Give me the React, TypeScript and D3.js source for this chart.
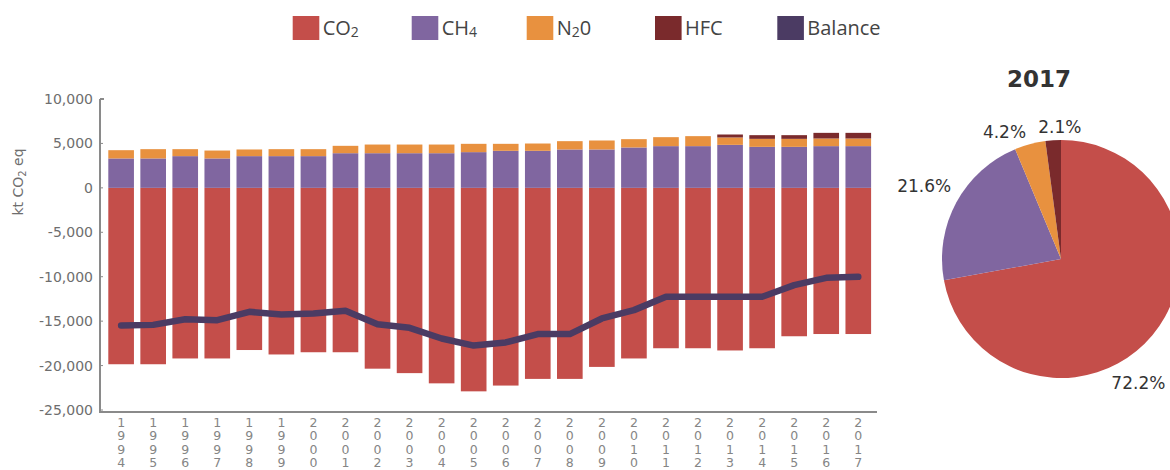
import React from 'react';
import * as d3 from 'd3';

// ---------- data ----------
const years = [1994, 1995, 1996, 1997, 1998, 1999, 2000, 2001, 2002, 2003, 2004, 2005, 2006, 2007, 2008, 2009, 2010, 2011, 2012, 2013, 2014, 2015, 2016, 2017];
const co2 = [-19850, -19850, -19200, -19200, -18250, -18750, -18500, -18500, -20350, -20850, -22000, -22900, -22250, -21500, -21500, -20150, -19200, -18050, -18050, -18300, -18050, -16700, -16450, -16450];
const ch4 = [3310, 3310, 3570, 3310, 3570, 3570, 3570, 3900, 3900, 3900, 3900, 4020, 4170, 4170, 4320, 4320, 4545, 4695, 4695, 4840, 4615, 4615, 4695, 4695];
const n2o = [930, 1045, 785, 890, 750, 785, 785, 830, 975, 975, 975, 935, 785, 820, 935, 1010, 935, 1010, 1125, 830, 900, 900, 860, 860];
const hfc = [0, 0, 0, 0, 0, 0, 0, 0, 0, 0, 0, 0, 0, 0, 0, 0, 0, 0, 0, 335, 415, 415, 635, 635];
const balance = [-15490, -15420, -14780, -14890, -13950, -14250, -14140, -13840, -15340, -15750, -16950, -17750, -17400, -16460, -16460, -14700, -13760, -12260, -12260, -12260, -12260, -10950, -10130, -10010];

const seriesKeys = ['CO2', 'CH4', 'N2O', 'HFC'];
const seriesColors = ['#c44e4a', '#8066a0', '#e8913f', '#7a2a2c'];
const balanceColor = '#4b3b63';

const yTicks = [10000, 5000, 0, -5000, -10000, -15000, -20000, -25000];

const legendMain = ['CO', 'CH', 'N', 'HFC', 'Balance'];
const legendSub = ['2', '4', '2', '', ''];
const legendTail = ['', '', '0', '', ''];
const legendColors = ['#c44e4a', '#8066a0', '#e8913f', '#7a2a2c', '#4b3b63'];

const pieTitle = '2017';
const pieShares = [72.2, 21.6, 4.2, 2.1];
const pieLabels = ['72.2%', '21.6%', '4.2%', '2.1%'];

// ---------- layout ----------
const W = 1170;
const H = 470;
const legendX = [292.7, 411.7, 526.7, 655, 777.3];
const pieCx = 1061;
const pieCy = 259;
const pieR = 119;
// label placement (angle in degrees clockwise from 12 o'clock, radius)
const pieLabelPlace = [
  { a: 148, r: 146 },
  { a: 298, r: 155 },
  { a: 336, r: 139 },
  { a: 359.5, r: 132 },
];

const axisColor = '#8a8a8a';
const tickText = '#6e6e6e';

export default function App() {
  const rows = years.map((yr, i) => ({
    year: String(yr),
    CO2: co2[i],
    CH4: ch4[i],
    N2O: n2o[i],
    HFC: hfc[i],
  }));

  const x = d3
    .scaleBand<string>()
    .domain(rows.map((r) => r.year))
    .range([108.3, 871.1])
    .paddingInner(0.2)
    .paddingOuter(0);

  const y = d3.scaleLinear().domain([-25000, 10000]).range([410, 99]);

  const stack = d3
    .stack<any>()
    .keys(seriesKeys)
    .offset(d3.stackOffsetDiverging);
  const layers = stack(rows);

  const line = d3
    .line<number>()
    .x((_, i) => (x(String(years[i])) as number) + x.bandwidth() / 2)
    .y((d) => y(d))
    .curve(d3.curveLinear);

  const pie = d3
    .pie<number>()
    .sort(null)
    .value((d) => d)
    .startAngle(0)
    .endAngle(Math.PI * 2);
  const arcs = pie(pieShares);
  const arc = d3.arc<any>().innerRadius(0).outerRadius(pieR);

  const fmt = d3.format(',');
  const axisBottom = 412;
  const axisLeft = 100;
  const axisRight = 877;

  return (
    <svg
      width={W}
      height={H}
      viewBox={`0 0 ${W} ${H}`}
      style={{ position: 'absolute', left: 0, top: 0, background: '#fff' }}
    >
      {/* legend */}
      <g>
        {legendMain.map((name, i) => (
          <g key={name + i}>
            <rect x={legendX[i]} y={16} width={26.6} height={24} fill={legendColors[i]} />
            <text
              x={legendX[i] + 30}
              y={35}
              fontFamily="'Open Sans', sans-serif"
              fontSize={20}
              fill="#444"
            >
              {name}
              {legendSub[i] ? (
                <tspan fontSize={14} dy={2}>
                  {legendSub[i]}
                </tspan>
              ) : null}
              {legendTail[i] ? <tspan dy={-2}>{legendTail[i]}</tspan> : null}
            </text>
          </g>
        ))}
      </g>

      {/* bars */}
      <g>
        {layers.map((layer, li) => (
          <g key={layer.key} fill={seriesColors[li]}>
            {layer.map((d, i) => {
              const y0 = y(d[0]);
              const y1 = y(d[1]);
              const h = Math.abs(y0 - y1);
              if (h < 0.01) return null;
              return (
                <rect
                  key={i}
                  x={x(rows[i].year)}
                  y={Math.min(y0, y1)}
                  width={x.bandwidth()}
                  height={h}
                />
              );
            })}
          </g>
        ))}
      </g>

      {/* balance line */}
      <path
        d={line(balance) || ''}
        fill="none"
        stroke={balanceColor}
        strokeWidth={6.5}
        strokeLinejoin="round"
        strokeLinecap="round"
      />

      {/* y axis */}
      <g>
        <line x1={axisLeft} x2={axisLeft} y1={y(10000)} y2={axisBottom} stroke={axisColor} strokeWidth={2} />
        <line x1={axisLeft} x2={axisLeft + 4} y1={y(10000)} y2={y(10000)} stroke={axisColor} strokeWidth={2} />
        {yTicks.map((t) => (
          <g key={t}>
            <line x1={axisLeft} x2={axisLeft + 3} y1={y(t)} y2={y(t)} stroke={axisColor} strokeWidth={1} />
            <text
              x={axisLeft - 7}
              y={y(t)}
              textAnchor="end"
              dominantBaseline="central"
              fontFamily="'DejaVu Sans', sans-serif"
              fontSize={14}
              fill={tickText}
            >
              {fmt(t).replace('−', '-')}
            </text>
          </g>
        ))}
        <g transform="translate(23, 182) rotate(-90)">
          <text
            x={0}
            y={0}
            textAnchor="middle"
            fontFamily="'DejaVu Sans', sans-serif"
            fontSize={14}
            fill={tickText}
          >
            <tspan>kt CO</tspan>
            <tspan fontSize={10} dy={3}>2</tspan>
            <tspan fontSize={14} dy={-3}> eq</tspan>
          </text>
        </g>
      </g>

      {/* x axis */}
      <g>
        <line x1={axisLeft - 1} x2={axisRight} y1={axisBottom} y2={axisBottom} stroke={axisColor} strokeWidth={2} />
        {years.map((yr) => {
          const cx = (x(String(yr)) as number) + x.bandwidth() / 2;
          return (
            <g key={yr}>
              {String(yr)
                .split('')
                .map((ch, k) => (
                  <text
                    key={k}
                    x={cx}
                    y={427 + k * 13.4}
                    textAnchor="middle"
                    fontFamily="'DejaVu Sans', sans-serif"
                    fontSize={12.5}
                    fill="#858585"
                  >
                    {ch}
                  </text>
                ))}
            </g>
          );
        })}
      </g>

      {/* pie */}
      <g>
        <text
          x={1039}
          y={87}
          textAnchor="middle"
          fontFamily="'DejaVu Sans', sans-serif"
          fontWeight="bold"
          fontSize={23}
          fill="#333"
        >
          {pieTitle}
        </text>
        <g transform={`translate(${pieCx},${pieCy})`}>
          {arcs.map((a, i) => (
            <path key={i} d={arc(a) || ''} fill={seriesColors[i]} />
          ))}
          {arcs.map((a, i) => {
            const p = pieLabelPlace[i];
            const ang = (p.a * Math.PI) / 180;
            return (
              <text
                key={'l' + i}
                x={Math.sin(ang) * p.r}
                y={-Math.cos(ang) * p.r}
                textAnchor="middle"
                dominantBaseline="central"
                fontFamily="'DejaVu Sans', sans-serif"
                fontSize={17}
                fill="#333"
              >
                {pieLabels[i]}
              </text>
            );
          })}
        </g>
      </g>
    </svg>
  );
}
